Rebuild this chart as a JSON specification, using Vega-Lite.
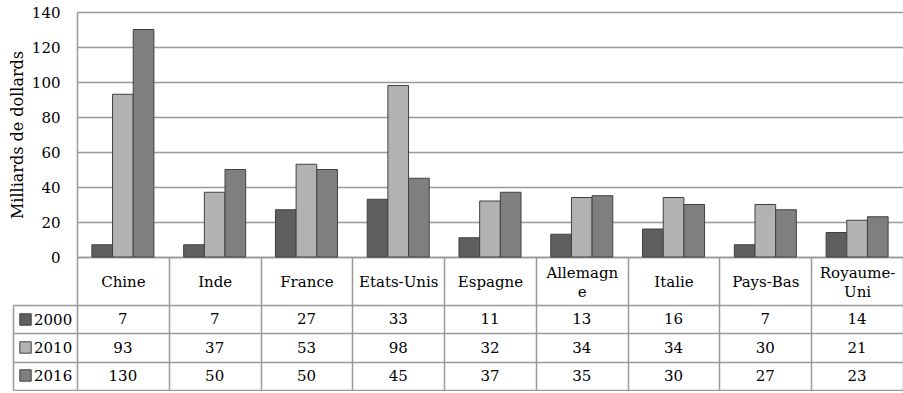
{
  "$schema": "https://vega.github.io/schema/vega-lite/v6.json",
  "background": "white",
  "padding": {"left": 9, "top": 5, "right": 0, "bottom": 0},
  "bounds": "flush",
  "spacing": 48,
  "config": {
    "font": "DejaVu Serif",
    "view": {"stroke": null},
    "axis": {"labelFont": "DejaVu Serif", "titleFont": "DejaVu Serif"},
    "legend": {"labelFont": "DejaVu Serif"},
    "text": {"font": "DejaVu Serif"}
  },
  "data": {
    "values": [
      {"country": "Chine", "year": "2000", "value": 7},
      {"country": "Chine", "year": "2010", "value": 93},
      {"country": "Chine", "year": "2016", "value": 130},
      {"country": "Inde", "year": "2000", "value": 7},
      {"country": "Inde", "year": "2010", "value": 37},
      {"country": "Inde", "year": "2016", "value": 50},
      {"country": "France", "year": "2000", "value": 27},
      {"country": "France", "year": "2010", "value": 53},
      {"country": "France", "year": "2016", "value": 50},
      {"country": "Etats-Unis", "year": "2000", "value": 33},
      {"country": "Etats-Unis", "year": "2010", "value": 98},
      {"country": "Etats-Unis", "year": "2016", "value": 45},
      {"country": "Espagne", "year": "2000", "value": 11},
      {"country": "Espagne", "year": "2010", "value": 32},
      {"country": "Espagne", "year": "2016", "value": 37},
      {"country": "Allemagne", "year": "2000", "value": 13},
      {"country": "Allemagne", "year": "2010", "value": 34},
      {"country": "Allemagne", "year": "2016", "value": 35},
      {"country": "Italie", "year": "2000", "value": 16},
      {"country": "Italie", "year": "2010", "value": 34},
      {"country": "Italie", "year": "2016", "value": 30},
      {"country": "Pays-Bas", "year": "2000", "value": 7},
      {"country": "Pays-Bas", "year": "2010", "value": 30},
      {"country": "Pays-Bas", "year": "2016", "value": 27},
      {"country": "Royaume-Uni", "year": "2000", "value": 14},
      {"country": "Royaume-Uni", "year": "2010", "value": 21},
      {"country": "Royaume-Uni", "year": "2016", "value": 23}
    ]
  },
  "resolve": {
    "scale": {"x": "independent", "y": "independent", "color": "independent"},
    "legend": {"color": "independent"}
  },
  "vconcat": [
    {
      "width": 826,
      "height": 245,
      "mark": {"type": "bar", "stroke": "#404040", "strokeWidth": 1},
      "encoding": {
        "x": {
          "field": "country",
          "type": "nominal",
          "sort": null,
          "scale": {"paddingInner": 0, "paddingOuter": 0},
          "axis": {
            "title": null,
            "orient": "bottom",
            "domain": true,
            "domainColor": "#999999",
            "domainWidth": 1.5,
            "ticks": true,
            "tickBand": "extent",
            "tickSize": 48,
            "tickColor": "#999999",
            "tickWidth": 1.5,
            "grid": false,
            "labelAngle": 0,
            "labelFontSize": 15,
            "labelColor": "black",
            "labelBaseline": "middle",
            "labelPadding": {
              "condition": {"test": "datum.value === 'Allemagne' || datum.value === 'Royaume-Uni'", "value": -33},
              "value": -24
            },
            "labelLineHeight": 19,
            "labelLimit": 200,
            "labelOverlap": false,
            "labelBound": false,
            "labelExpr": "datum.value === 'Allemagne' ? ['Allemagn', 'e'] : datum.value === 'Royaume-Uni' ? ['Royaume-', 'Uni'] : datum.label"
          }
        },
        "xOffset": {
          "field": "year",
          "type": "nominal",
          "scale": {"paddingInner": 0, "paddingOuter": 0.72}
        },
        "y": {
          "field": "value",
          "type": "quantitative",
          "scale": {"domain": [0, 140], "nice": false},
          "axis": {
            "title": "Milliards de dollards",
            "titleFontSize": 16,
            "titleFontWeight": "normal",
            "titleColor": "black",
            "titlePadding": 6,
            "values": [0, 20, 40, 60, 80, 100, 120, 140],
            "labelFontSize": 15,
            "labelColor": "black",
            "labelPadding": 17,
            "ticks": false,
            "domain": true,
            "domainColor": "#999999",
            "domainWidth": 1.5,
            "grid": true,
            "gridColor": "#999999",
            "gridWidth": 1.5
          }
        },
        "color": {
          "field": "year",
          "type": "nominal",
          "scale": {"domain": ["2000", "2010", "2016"], "range": ["#5f5f5f", "#b2b2b2", "#7f7f7f"]},
          "legend": {
            "orient": "none",
            "legendX": -59,
            "legendY": 300,
            "title": null,
            "direction": "vertical",
            "padding": 0,
            "symbolType": "square",
            "symbolSize": 130,
            "symbolStrokeColor": "#404040",
            "symbolStrokeWidth": 1,
            "labelFontSize": 15,
            "labelColor": "black",
            "labelOffset": 1,
            "rowPadding": 11
          }
        }
      }
    },
    {
      "width": 826,
      "height": 85,
      "mark": {"type": "text", "fontSize": 15, "color": "black", "baseline": "middle"},
      "encoding": {
        "x": {
          "field": "country",
          "type": "nominal",
          "sort": null,
          "scale": {"paddingInner": 0, "paddingOuter": 0},
          "axis": {
            "title": null,
            "labels": false,
            "ticks": false,
            "domain": false,
            "grid": true,
            "tickBand": "extent",
            "gridColor": "#999999",
            "gridWidth": 1.5
          }
        },
        "y": {
          "field": "year",
          "type": "nominal",
          "sort": null,
          "scale": {"paddingInner": 0, "paddingOuter": 0},
          "axis": {
            "title": null,
            "labels": false,
            "grid": true,
            "tickBand": "extent",
            "gridColor": "#999999",
            "gridWidth": 1.5,
            "ticks": true,
            "tickSize": -64,
            "tickColor": "#999999",
            "tickWidth": 1.5,
            "offset": 64,
            "domain": true,
            "domainColor": "#999999",
            "domainWidth": 1.5
          }
        },
        "text": {"field": "value", "type": "quantitative"}
      }
    }
  ]
}
